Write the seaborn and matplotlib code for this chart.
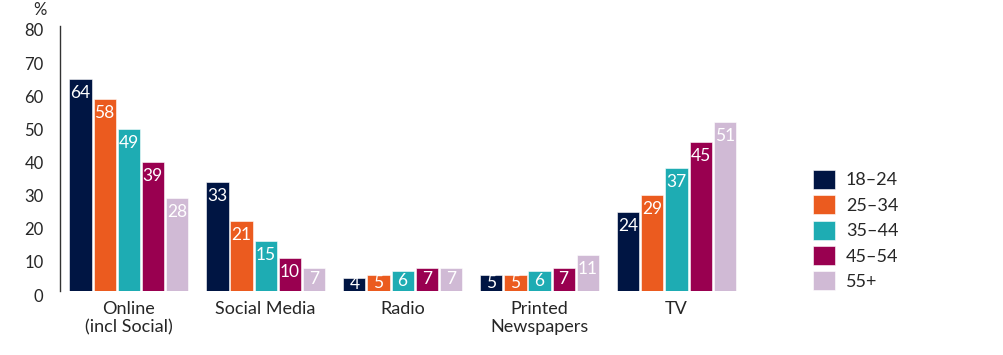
import matplotlib
matplotlib.use("Agg")
import matplotlib.pyplot as plt
import matplotlib.transforms as mtrans
import seaborn as sns
import pandas as pd

# data
categories = ["Online\n(incl Social)", "Social Media", "Radio", "Printed\nNewspapers", "TV"]
age_groups = ["18–24", "25–34", "35–44", "45–54", "55+"]
online = [64, 58, 49, 39, 28]
social = [33, 21, 15, 10, 7]
radio = [4, 5, 6, 7, 7]
papers = [5, 5, 6, 7, 11]
tv = [24, 29, 37, 45, 51]
colours = ["#001543", "#EB5B1F", "#1EACB3", "#990050", "#D0BAD5"]

rows = []
for cat, vals in zip(categories, [online, social, radio, papers, tv]):
    for age, v in zip(age_groups, vals):
        rows.append({"source": cat, "age": age, "pct": v})
df = pd.DataFrame(rows)

sns.set_style("white")
plt.rcParams["font.family"] = ["Lato", "DejaVu Sans"]

fig = plt.figure(figsize=(10.04, 3.55), dpi=100)
ax = fig.add_axes([0.06, 0.18, 0.682, 0.747])

sns.barplot(data=df, x="source", y="pct", hue="age", order=categories,
            hue_order=age_groups, palette=colours, width=0.88, gap=0.08,
            saturation=1, edgecolor="white", linewidth=0.4, ax=ax)

# value labels inside bars
for cont in ax.containers:
    for bar in cont:
        h = bar.get_height()
        x = bar.get_x() + bar.get_width() / 2
        if h >= 8:
            ax.text(x, h - 1.8, f"{h:.0f}", ha="center", va="top",
                    color="white", fontsize=12.5)
        else:
            ax.text(x, h / 2, f"{h:.0f}", ha="center", va="center",
                    color="white", fontsize=12.5)

ax.set_xlim(-0.5, 4.5)
ax.set_ylim(0, 80)
ax.set_yticks(range(0, 81, 10))
ax.tick_params(axis="y", labelsize=12, length=0, pad=12)
ax.tick_params(axis="x", labelsize=13, length=0, pad=7)
shift = mtrans.ScaledTranslation(0, -0.04, fig.dpi_scale_trans)
for lab in ax.get_yticklabels():
    lab.set_transform(lab.get_transform() + shift)
ax.set_xlabel("")
ax.set_ylabel("")
for s in ["top", "right", "bottom"]:
    ax.spines[s].set_visible(False)
ax.spines["left"].set_color("#333333")
ax.spines["left"].set_linewidth(1)

fig.text(0.04, 0.995, "%", fontsize=12, ha="center", va="top")

leg = ax.legend(loc="center left", bbox_to_anchor=(1.075, 0.23), frameon=False,
                fontsize=13, handlelength=1.25, handleheight=1.25,
                handletextpad=0.6, labelspacing=0.35)
for p in leg.get_patches():
    p.set_edgecolor("white")

fig.savefig("out.png", dpi=100)
